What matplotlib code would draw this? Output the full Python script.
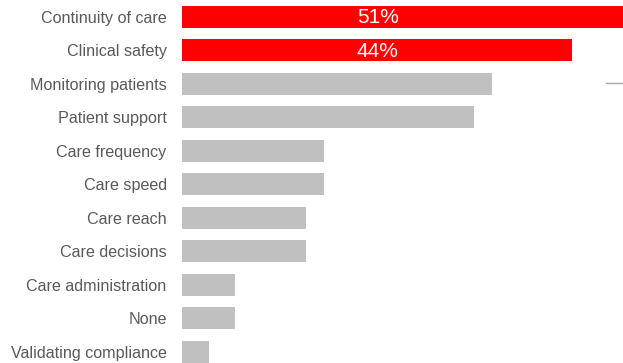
import matplotlib
matplotlib.use("Agg")
import matplotlib.pyplot as plt
from matplotlib.lines import Line2D

categories = ["Continuity of care", "Clinical safety", "Monitoring patients",
              "Patient support", "Care frequency", "Care speed", "Care reach",
              "Care decisions", "Care administration", "None",
              "Validating compliance"]
values = [51, 44, 35, 33, 16, 16, 14, 14, 6, 6, 3]
highlight = [True, True, False, False, False, False, False, False, False, False, False]
value_labels = ["51%", "44%"]

plt.rcParams['font.family'] = ['Liberation Sans', 'DejaVu Sans']

W, H = 623, 363
fig = plt.figure(figsize=(W / 100, H / 100), dpi=100)
ax = fig.add_axes([182 / W, 0, 1 - 182 / W, 1])

colors = ["#FF0000" if h else "#C0C0C0" for h in highlight]
y = list(range(len(categories)))
ax.barh(y, values, height=0.657, color=colors, clip_on=True)

for i, lab in enumerate(value_labels):
    ax.text(22.1, i + 0.02, lab, color="white", fontsize=15, ha="center", va="center")

ax.set_xlim(0, 441 / 8.86)
ax.set_ylim(10.33, -0.507)
ax.set_yticks(y)
ax.set_yticklabels(categories, fontsize=11.6, color="#595959")
ax.tick_params(axis="y", length=0, pad=11)
ax.set_xticks([])
for s in ax.spines.values():
    s.set_visible(False)

fig.add_artist(Line2D([606 / W, 1.0], [1 - 83 / H, 1 - 83 / H],
                      color="#A6A6A6", lw=1))

fig.savefig("out.png", dpi=100)
